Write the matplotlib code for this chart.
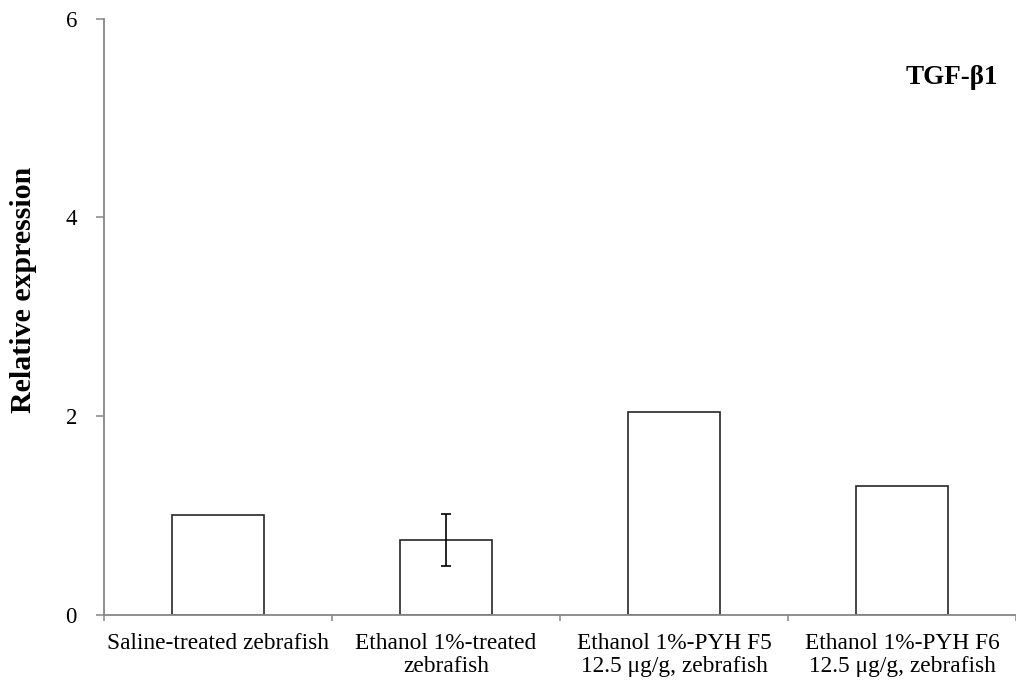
import matplotlib
matplotlib.use("Agg")
import matplotlib.pyplot as plt

categories = [
    "Saline-treated zebrafish",
    "Ethanol 1%-treated\nzebrafish",
    "Ethanol 1%-PYH F5\n12.5 \u03bcg/g, zebrafish",
    "Ethanol 1%-PYH F6\n12.5 \u03bcg/g, zebrafish",
]
values = [1.0, 0.75, 2.04, 1.30]
errors = [0.0, 0.26, 0.0, 0.0]
yticks = [0, 2, 4, 6]
gene_label = "TGF-\u03b21"
y_title = "Relative expression"

plt.rcParams["font.family"] = ["Liberation Serif", "DejaVu Serif"]

W, H = 1016, 688
fig = plt.figure(figsize=(W / 100, H / 100), dpi=100)
ax = fig.add_axes([0.1024, 0.1065, 0.8976, 0.8665])

x = list(range(len(categories)))
ax.bar(x, values, width=0.40, color="white", edgecolor="#262626", linewidth=1.2, zorder=2)
for xi, v, e in zip(x, values, errors):
    if e > 0:
        ax.errorbar(xi, v, yerr=e, fmt="none", ecolor="black", elinewidth=1.2,
                    capsize=3.5, capthick=1.2, zorder=3)

ax.set_xlim(-0.5, len(categories) - 0.5)
ax.set_ylim(0, 6)
ax.set_yticks(yticks)
ax.set_yticklabels([str(t) for t in yticks], fontsize=16.5)

# category labels centred under each bar, ticks on the category boundaries
ax.set_xticks(x)
ax.set_xticklabels(categories, fontsize=16.8, linespacing=1.12)
ax.tick_params(axis="x", length=0, pad=13)
ax.set_xticks([i - 0.5 for i in range(len(categories) + 1)], minor=True)
ax.tick_params(axis="x", which="minor", length=4, width=1.1, color="#868686", direction="out")
ax.tick_params(axis="y", length=6, width=1.1, color="#868686", direction="out", pad=13.5)

for side in ("top", "right"):
    ax.spines[side].set_visible(False)
for side in ("left", "bottom"):
    ax.spines[side].set_color("#868686")
    ax.spines[side].set_linewidth(1.3)

fig.text(24 / W, 1 - 290 / H, y_title, rotation=90, ha="center", va="center",
         fontsize=21.5, fontweight="bold")
ax.text(998 / W, 1 - 77 / H, gene_label, transform=fig.transFigure, ha="right",
        va="center", fontsize=19.5, fontweight="bold")

fig.savefig("out.png", dpi=100)
